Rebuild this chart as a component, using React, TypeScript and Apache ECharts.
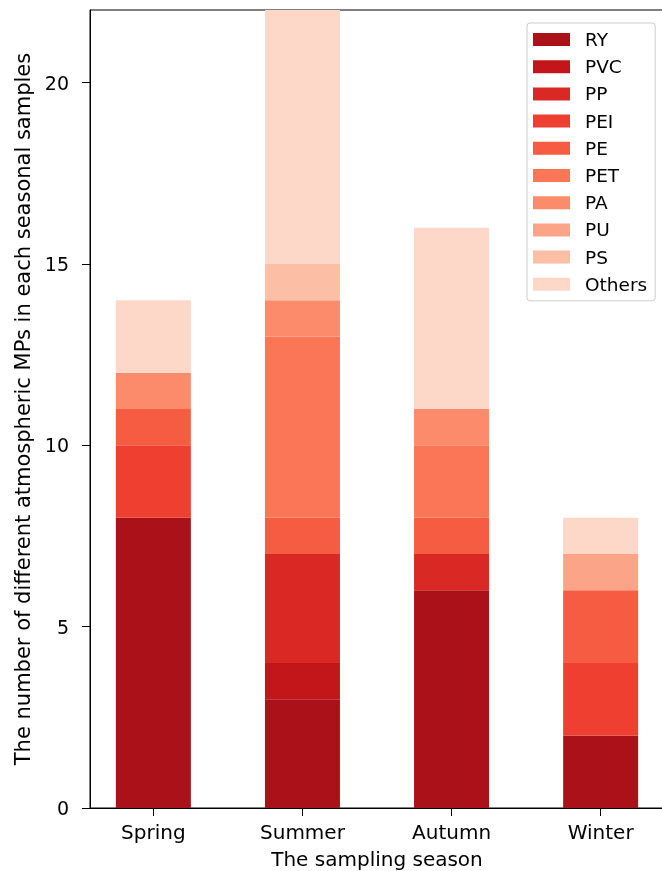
import React, { useEffect, useRef } from "react";
import * as echarts from "echarts";

const seasons = ["Spring", "Summer", "Autumn", "Winter"];
const types = ["RY", "PVC", "PP", "PEI", "PE", "PET", "PA", "PU", "PS", "Others"];
const RY = [8, 3, 6, 2];
const PVC = [0, 1, 0, 0];
const PP = [0, 3, 1, 0];
const PEI = [2, 0, 0, 2];
const PE = [1, 1, 1, 2];
const PET = [0, 5, 2, 0];
const PA = [1, 1, 1, 0];
const PU = [0, 0, 0, 1];
const PS = [0, 1, 0, 0];
const Others = [2, 7, 5, 1];
const values = [RY, PVC, PP, PEI, PE, PET, PA, PU, PS, Others];
const colors = ["#ab1118", "#c3161b", "#da2824", "#ef3f30", "#f65c41", "#fa7656", "#fc8b6c", "#fca487", "#fcbfa6", "#fdd7c8"];
const yTicks = [0, 5, 10, 15, 20];
const xTicks = [0, 1, 2, 3];

const FONT = "DejaVu Sans";

export default function App() {
  const ref = useRef<HTMLDivElement>(null);
  useEffect(() => {
    if (!ref.current) return;
    const chart = echarts.init(ref.current, null, { renderer: "svg" });
    chart.setOption({
      animation: false,
      textStyle: { fontFamily: FONT, color: "#000" },
      grid: {
        left: 90,
        top: 10,
        width: 574,
        height: 798,
        outerBoundsMode: "none",
        containLabel: false,
        show: true,
        borderColor: "#000",
        borderWidth: 1,
        backgroundColor: "transparent",
      },
      legend: {
        orient: "vertical",
        left: 527,
        top: 23,
        padding: [7, 8, 7, 6],
        itemWidth: 37,
        itemHeight: 13,
        itemGap: 8.2,
        icon: "rect",
        borderColor: "#cccccc",
        borderWidth: 1,
        borderRadius: 3,
        backgroundColor: "rgba(255,255,255,0.8)",
        textStyle: { fontFamily: FONT, fontSize: 18.5, color: "#000", lineHeight: 19, padding: [0, 0, 0, 10] },
        data: types,
      },
      xAxis: {
        type: "value",
        min: -0.425,
        max: 3.425,
        name: "The sampling season",
        nameLocation: "middle",
        nameGap: 41,
        nameTextStyle: { fontFamily: FONT, fontSize: 20, color: "#000" },
        axisLine: { show: true, onZero: false, lineStyle: { color: "#000", width: 1 } },
        axisTick: { show: true, length: 8, lineStyle: { color: "#000" }, customValues: xTicks },
        axisLabel: {
          fontFamily: FONT,
          fontSize: 20,
          color: "#000",
          margin: 14,
          customValues: xTicks,
          formatter: (v: number) => seasons[Math.round(v)] ?? "",
        },
        splitLine: { show: false },
      },
      yAxis: {
        type: "value",
        min: 0,
        max: 22,
        name: "The number of different atmospheric MPs in each seasonal samples",
        nameLocation: "middle",
        nameGap: 54,
        nameTextStyle: { fontFamily: FONT, fontSize: 21, color: "#000" },
        axisLine: { show: true, onZero: false, lineStyle: { color: "#000", width: 1 } },
        axisTick: { show: true, length: 8, lineStyle: { color: "#000" }, customValues: yTicks },
        axisLabel: { fontFamily: FONT, fontSize: 19, color: "#000", margin: 21, customValues: yTicks },
        splitLine: { show: false },
      },
      series: types.map((name, i) => ({
        name,
        type: "bar",
        stack: "total",
        barWidth: 75,
        itemStyle: { color: colors[i] },
        encode: { x: 1, y: 0 },
        data: values[i].map((v, j) => [v, j]),
      })),
    });
    return () => chart.dispose();
  }, []);
  return <div ref={ref} style={{ position: "fixed", left: 0, top: 0, width: 662, height: 871 }} />;
}
